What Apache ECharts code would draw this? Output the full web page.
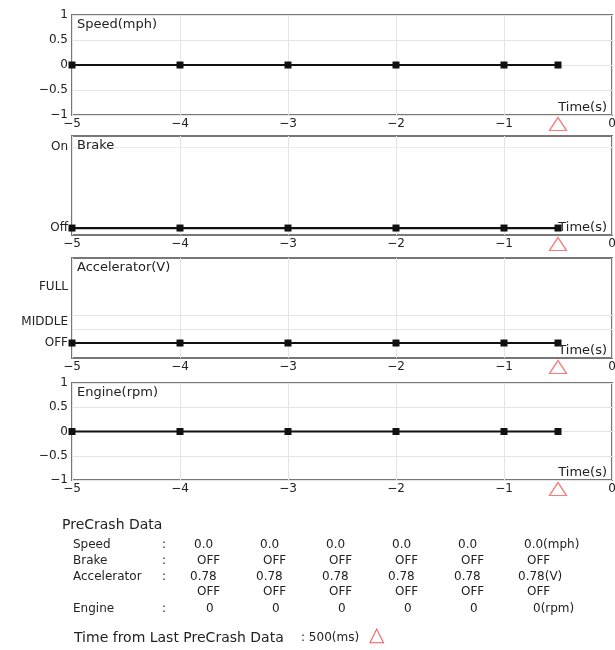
<!DOCTYPE html>
<html><head><meta charset="utf-8">
<script src="https://cdn.jsdelivr.net/npm/echarts@6/dist/echarts.min.js"></script>
<style>html,body{margin:0;padding:0;background:#fff}#c{width:615px;height:650px}</style>
</head><body><div id="c"></div>
<script>
// ---- data ----
const times = [-5, -4, -3, -2, -1, -0.5];
const speedValues = [0, 0, 0, 0, 0, 0];
const brakeValues = [0, 0, 0, 0, 0, 0];          // 0 = Off
const acceleratorValues = [0, 0, 0, 0, 0, 0];    // 0 = OFF level
const engineValues = [0, 0, 0, 0, 0, 0];
const lastPreCrashTime = -0.5;

const panelTitles = ['Speed(mph)', 'Brake', 'Accelerator(V)', 'Engine(rpm)'];
const xAxisName = 'Time(s)';
const brakeLevelNames = ['Off', 'On'];
const brakeLevels = [0, 1];
const accelLevelNames = ['OFF', 'MIDDLE', 'FULL'];
const accelLevels = [0, 1.5, 4];
const accelGridLevels = [1, 2];

const tableTitle = 'PreCrash Data';
const tableRowNames = ['Speed', 'Brake', 'Accelerator', '', 'Engine'];
const tableSpeed = ['0.0', '0.0', '0.0', '0.0', '0.0', '0.0'];
const tableBrake = ['OFF', 'OFF', 'OFF', 'OFF', 'OFF', 'OFF'];
const tableAccelVolt = ['0.78', '0.78', '0.78', '0.78', '0.78', '0.78'];
const tableAccelState = ['OFF', 'OFF', 'OFF', 'OFF', 'OFF', 'OFF'];
const tableEngine = ['0', '0', '0', '0', '0', '0'];
const tableUnits = ['(mph)', '', '(V)', '', '(rpm)'];
const timeFromLastLabel = 'Time from Last PreCrash Data';
const timeFromLastValue = '500(ms)';

// ---- layout ----
const FONT = '"DejaVu Sans", sans-serif';
const TXT = '#222';
const gridTops = [15, 136, 258, 383];
const gridHeights = [100, 99, 100, 97];
const yRanges = [[-1, 1], [-0.086, 1.136], [-1.07, 6.07], [-1, 1]];
const minus = v => String(v).replace('-', '\u2212');

const grids = [], xAxes = [], yAxes = [], series = [];
const seriesData = [speedValues, brakeValues, acceleratorValues, engineValues];

for (let i = 0; i < 4; i++) {
  grids.push({left: 72, width: 540, top: gridTops[i], height: gridHeights[i], show: true,
    containLabel: false, outerBoundsMode: 'none',
    borderColor: '#777', borderWidth: 2, backgroundColor: 'transparent'});
  xAxes.push({type: 'value', gridIndex: i, min: -5, max: 0, interval: 1,
    axisLine: {show: false}, axisTick: {show: false},
    axisLabel: {color: TXT, fontFamily: FONT, fontSize: 12, margin: 3, formatter: minus, showMinLabel: true, showMaxLabel: true},
    splitLine: {show: true, lineStyle: {color: '#e4e4e4', width: 1}}});
  const y = {type: 'value', gridIndex: i, min: yRanges[i][0], max: yRanges[i][1],
    axisLine: {show: false}, axisTick: {show: false},
    axisLabel: {color: TXT, fontFamily: FONT, fontSize: 12, margin: 4},
    splitLine: {show: false}};
  if (i === 0 || i === 3) {
    y.interval = 0.5;
    y.axisLabel.formatter = minus;
    y.splitLine = {show: true, lineStyle: {color: '#e4e4e4', width: 1}};
  } else if (i === 1) {
    y.axisLabel.customValues = brakeLevels;
    y.axisLabel.formatter = v => brakeLevelNames[brakeLevels.indexOf(v)];
  } else {
    y.axisLabel.customValues = accelLevels;
    y.axisLabel.formatter = v => accelLevelNames[accelLevels.indexOf(v)];
  }
  yAxes.push(y);

  const line = {type: 'line', xAxisIndex: i, yAxisIndex: i,
    data: times.map((t, k) => [t, seriesData[i][k]]),
    symbol: 'rect', symbolSize: 7, showSymbol: true,
    lineStyle: {color: '#111', width: 2.2}, itemStyle: {color: '#111'},
    animation: false, clip: false, z: 5};
  if (i === 1) {
    line.markLine = {silent: true, symbol: 'none', label: {show: false}, z: 1,
      lineStyle: {color: '#ececec', width: 1, type: 'solid'}, data: [{yAxis: brakeLevels[1]}], animation: false};
  }
  if (i === 2) {
    line.markLine = {silent: true, symbol: 'none', label: {show: false}, z: 1,
      lineStyle: {color: '#e4e4e4', width: 1, type: 'solid'}, data: accelGridLevels.map(v => ({yAxis: v})), animation: false};
  }
  series.push(line);
  series.push({type: 'scatter', xAxisIndex: i, yAxisIndex: i,
    data: [[lastPreCrashTime, yRanges[i][0]]], symbol: 'triangle', symbolSize: [17, 13],
    symbolOffset: [0, 9], clip: false, silent: true, animation: false, z: 6,
    itemStyle: {color: '#fff', borderColor: '#f25c5c', borderWidth: 1.3}});
}

// ---- text ----
const graphic = [];
const txt = (x, y, s, opts = {}) => graphic.push({type: 'text', x, y, z: 100,
  style: Object.assign({text: s, fill: TXT, font: `12px ${FONT}`, textVerticalAlign: 'middle'}, opts)});

for (let i = 0; i < 4; i++) {
  txt(77, gridTops[i] + 10, panelTitles[i], {font: `13px ${FONT}`});
  txt(607, gridTops[i] + gridHeights[i] - 7, xAxisName, {textAlign: 'right', font: `13px ${FONT}`});
}

txt(62, 525, tableTitle, {font: `14px ${FONT}`});
const rowY = [545, 561, 577, 592, 609];
const rowData = [tableSpeed, tableBrake, tableAccelVolt, tableAccelState, tableEngine];
const rowOffset = [0, 3, -4, 3, 12];
tableRowNames.forEach((n, r) => {
  if (n) { txt(73, rowY[r], n); }
  if (r !== 3) txt(162, rowY[r], ':');
});
rowData.forEach((row, r) => {
  row.forEach((v, c) => {
    const last = c === row.length - 1;
    const off = last && r === 4 ? 9 : (last && r === 2 ? -6 : rowOffset[r]);
    txt(194 + 66 * c + off, rowY[r], v + (last ? tableUnits[r] : ''));
  });
});
txt(74, 638, timeFromLastLabel, {font: `14px ${FONT}`});
txt(301, 638, ': ' + timeFromLastValue, {font: `12px ${FONT}`});
txt(369, 636, '\u25B3', {fill: '#f25c5c', font: `20px ${FONT}`});

const chart = echarts.init(document.getElementById('c'), null, {renderer: 'canvas'});
chart.setOption({animation: false, backgroundColor: '#fff', grid: grids, xAxis: xAxes, yAxis: yAxes, series, graphic});
</script></body></html>
